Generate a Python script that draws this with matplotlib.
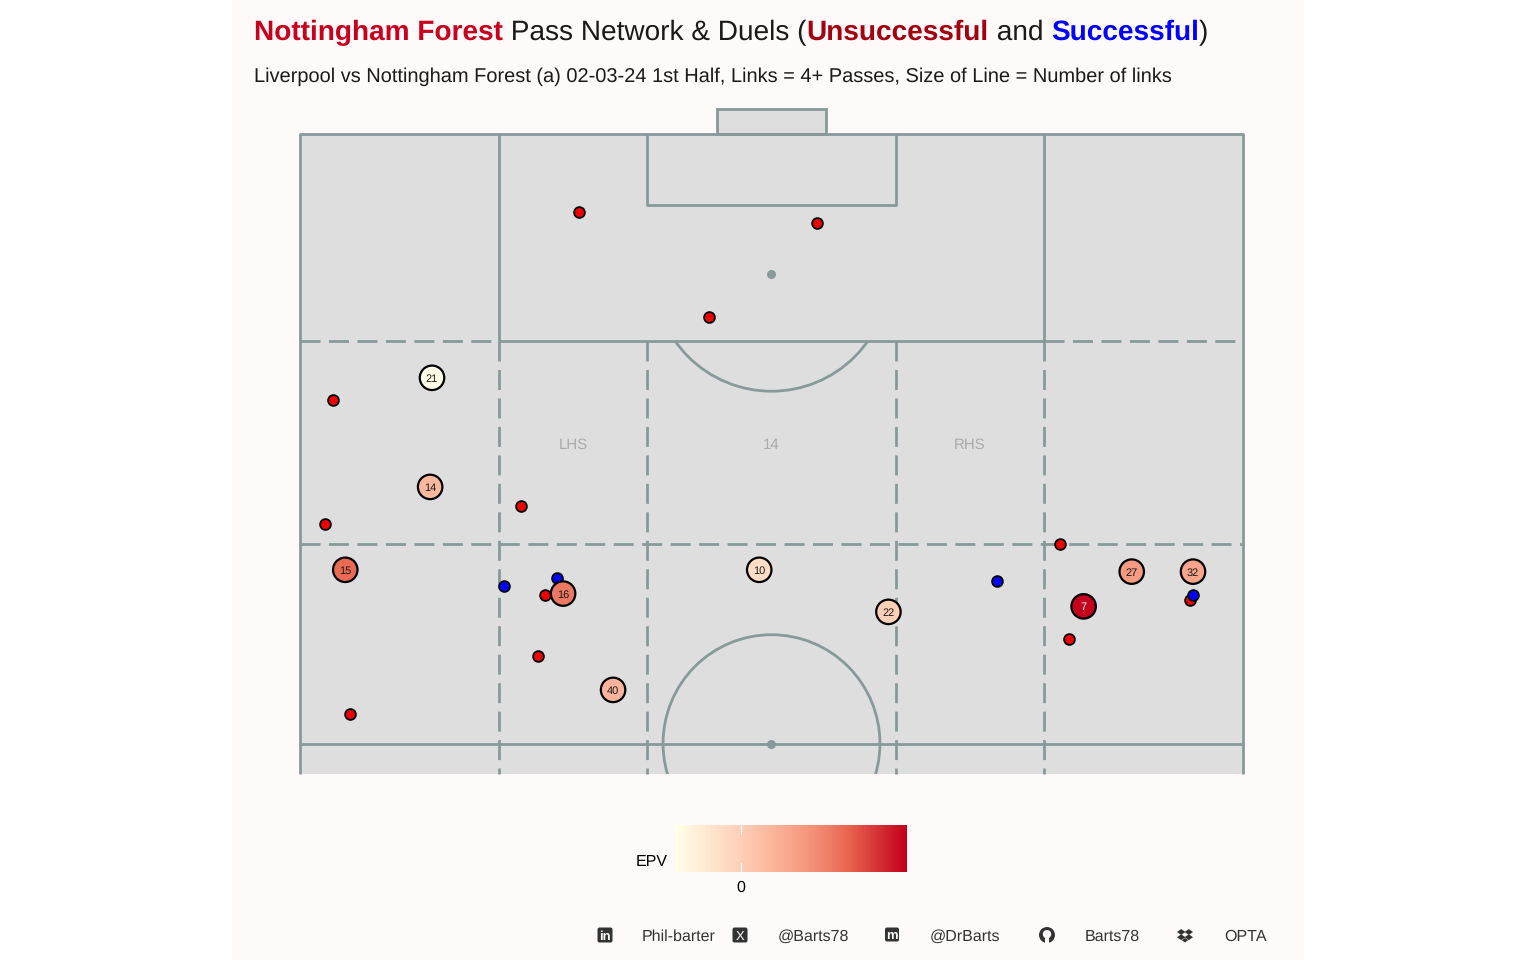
import numpy as np
import matplotlib
matplotlib.use("Agg")
import matplotlib.pyplot as plt
from matplotlib.colors import LinearSegmentedColormap, Normalize
from matplotlib.patches import Rectangle, Ellipse, Circle, FancyBboxPatch, Polygon

plt.rcParams['font.family'] = ['Liberation Sans', 'DejaVu Sans']
plt.rcParams['text.hinting'] = 'none'
plt.rcParams['text.hinting_factor'] = 1

# ---- data ----
node_numbers = ['21', '14', '15', '16', '40', '10', '22', '7', '27', '32']
node_x = [14.0, 13.8, 4.8, 27.9, 33.2, 48.7, 62.4, 83.1, 88.2, 94.7]
node_y = [80.0, 71.05, 64.25, 62.3, 54.4, 64.25, 60.8, 61.25, 64.1, 64.1]
node_epv = [-0.028, 0.012, 0.045, 0.040, 0.014, -0.008, 0.000, 0.072, 0.027, 0.022]

lost_x = [29.6, 54.8, 43.4, 3.5, 23.4, 2.65, 26.0, 25.2, 5.3, 80.6, 94.4, 81.5]
lost_y = [93.6, 92.7, 85.0, 78.2, 69.5, 68.0, 62.2, 57.2, 52.4, 66.4, 61.8, 58.6]
won_x = [27.3, 21.6, 73.9, 94.7]
won_y = [63.6, 62.9, 63.3, 62.2]

zone_labels = ['LHS', '14', 'RHS']
zone_label_x = [29.0, 50.0, 71.0]
zone_label_y = 74.2

title_parts = [('Nottingham Forest', '#C8001E', 'bold'), (' Pass Network & Duels (', '#1a1a1a', 'normal'),
               ('Unsuccessful', '#A50010', 'bold'), (' and ', '#1a1a1a', 'normal'),
               ('Successful', '#0000FF', 'bold'), (')', '#1a1a1a', 'normal')]
subtitle = 'Liverpool vs Nottingham Forest (a) 02-03-24 1st Half, Links = 4+ Passes, Size of Line = Number of links'
footer_labels = ['Phil-barter', '@Barts78', '@DrBarts', 'Barts78', 'OPTA']
footer_text_px = [642, 778, 930, 1085, 1224]
footer_icon_px = [605, 740, 892, 1047, 1185]

# ---- styles ----
W, H = 1536, 960
BG = '#FFFAFA'
PITCH = '#DEDEDE'
LINE = '#879A9A'
cmap = LinearSegmentedColormap.from_list('epv', [(0, '#FFFFE8'), (0.28, '#FFCFB8'), (0.5, '#F9A58B'),
                                                 (0.62, '#F28A72'), (0.75, '#E8644F'), (1, '#C4001C')])
norm = Normalize(-0.028, 0.072)

fig = plt.figure(figsize=(W / 100, H / 100), dpi=100, facecolor='white')

# pixel overlay
px = fig.add_axes([0, 0, 1, 1], zorder=0)
px.set_xlim(0, W); px.set_ylim(H, 0); px.axis('off')
px.add_patch(Rectangle((232, 0), 1072, H, fc=BG, ec='none'))

# pitch
L, R, T, B = 300, 1243, 109, 774
ax = fig.add_axes([L / W, 1 - B / H, (R - L) / W, (B - T) / H], zorder=1)
ax.set_xlim(0, 100)
ax.set_ylim(47.5, 102.05)
ax.axis('off')
lw = 2.0
dash = (0, (7.2, 3.05))
kw = dict(color=LINE, lw=lw, zorder=2, clip_on=False, solid_capstyle='butt')
ax.add_patch(Rectangle((0, 47.5), 100, 52.5, fc=PITCH, ec='none', zorder=1))
ax.add_patch(Rectangle((44.2, 100), 11.6, 2.05, fc=PITCH, ec=LINE, lw=lw, zorder=2, clip_on=False))
ax.plot([0, 0, 100, 100], [47.5, 100, 100, 47.5], **kw)
ax.plot([0, 100], [50, 50], **kw)
ax.plot([21.1, 21.1, 78.9, 78.9], [100, 83, 83, 100], **kw)
ax.plot([36.8, 36.8, 63.2, 63.2], [100, 94.2, 94.2, 100], **kw)
for x in (21.1, 36.8, 63.2, 78.9):
    ax.plot([x, x], [83, 47.5], color=LINE, lw=lw, ls=dash, zorder=2, clip_on=False)
ax.plot([0, 21.1], [83, 83], color=LINE, lw=lw, ls=dash, zorder=2)
ax.plot([78.9, 100], [83, 83], color=LINE, lw=lw, ls=dash, zorder=2)
ax.plot([0, 100], [66.4, 66.4], color=LINE, lw=lw, ls=dash, zorder=2)
ax.add_patch(Ellipse((50, 50), 23.0, 17.85, fc='none', ec=LINE, lw=lw, zorder=2, clip_on=True))
arc = Ellipse((50, 88.5), 24.9, 19.2, fc='none', ec=LINE, lw=lw, zorder=2)
ax.add_patch(arc)
arc.set_clip_path(Rectangle((0, 47.5), 100, 35.5, transform=ax.transData))
ax.scatter([49.95, 49.95], [88.5, 50], s=42, color=LINE, zorder=3, linewidths=0, clip_on=False)
for t, x in zip(zone_labels, zone_label_x):
    ax.text(x, zone_label_y, t, color='#ABABAB', fontsize=10.5, ha='center', va='baseline', zorder=3)

ax.scatter(lost_x, lost_y, s=60, c='#EE0000', edgecolors='black', linewidths=1.3, zorder=4)
ax.scatter(won_x, won_y, s=60, c='#0000FF', edgecolors='black', linewidths=1.3, zorder=4)
ax.scatter(node_x, node_y, s=310, c=node_epv, cmap=cmap, norm=norm, edgecolors='black', linewidths=1.6, zorder=5)
for x, y, n, v in zip(node_x, node_y, node_numbers, node_epv):
    ax.text(x, y, n, fontsize=8, ha='center', va='center_baseline', zorder=6,
            color='white' if v > 0.06 else '#1a1a1a')

# titles
fig.canvas.draw()
r = fig.canvas.get_renderer()
xpos = 254
TS = 20.1
for s, c, w in title_parts:
    t = px.text(xpos, 40, s, fontsize=TS, color=c, fontweight=w, va='baseline', ha='left', zorder=5)
    # measure including leading / trailing spaces
    probe = px.text(0, 0, s.replace(' ', '\u00a0'), fontsize=TS, fontweight=w)
    xpos += probe.get_window_extent(r).width
    probe.remove()
px.text(254, 82, subtitle, fontsize=14.35, color='#1a1a1a', va='baseline', ha='left')

# colour bar
cb = fig.add_axes([676 / W, 1 - 872 / H, 230.5 / W, 47 / H], zorder=2)
cb.imshow(np.linspace(-0.028, 0.072, 256)[None, :], aspect='auto', cmap=cmap, norm=norm,
          extent=[-0.028, 0.072, 0, 1])
cb.axis('off')
cb.plot([0, 0], [0, 0.2], color='white', lw=0.8)
cb.plot([0, 0], [0.8, 1], color='white', lw=0.8)
cb.set_xlim(-0.028, 0.072); cb.set_ylim(0, 1)
px.text(668, 866, 'EPV', fontsize=11.8, color='black', ha='right', va='baseline')
px.text(741, 892, '0', fontsize=11.8, color='black', ha='center', va='baseline')

# footer
FC = '#333333'
for s, x in zip(footer_labels, footer_text_px):
    px.text(x, 941, s, fontsize=11.8, color=FC, ha='left', va='baseline')
def rounded(x, y, s):
    px.add_patch(FancyBboxPatch((x - s / 2 + 1, y - s / 2 + 1), s - 2, s - 2, boxstyle='round,pad=1,rounding_size=2',
                                fc=FC, ec='none'))
y0 = 935
rounded(footer_icon_px[0], y0, 15)
px.text(footer_icon_px[0], y0 + 0.5, 'in', color='white', fontsize=9, fontweight='bold', ha='center', va='center_baseline')
rounded(footer_icon_px[1], y0, 15)
px.text(footer_icon_px[1], y0 + 0.5, 'X', color='white', fontsize=9, ha='center', va='center_baseline')
rounded(footer_icon_px[2], y0 - 0.5, 14)
px.text(footer_icon_px[2], y0 - 1, 'm', color='white', fontsize=9, fontweight='bold', ha='center', va='center_baseline')
gx = footer_icon_px[3]
px.add_patch(Circle((gx, y0), 8, fc=FC, ec='none'))
px.add_patch(Circle((gx, y0 - 0.8), 4.2, fc=BG, ec='none'))
px.add_patch(Rectangle((gx - 2.2, y0 + 3), 4.4, 5.5, fc=BG, ec='none'))
dx = footer_icon_px[4]
for ox, oy in [(-3.8, -3), (3.8, -3), (-3.8, 2.2), (3.8, 2.2), (0, 5.2)]:
    sc = 4.2 if oy != 5.2 else 3.2
    px.add_patch(Polygon([(dx + ox - sc, y0 + oy), (dx + ox, y0 + oy - sc * .7),
                          (dx + ox + sc, y0 + oy), (dx + ox, y0 + oy + sc * .7)], fc=FC, ec='none'))

fig.savefig('out.png', dpi=100, facecolor='white')
